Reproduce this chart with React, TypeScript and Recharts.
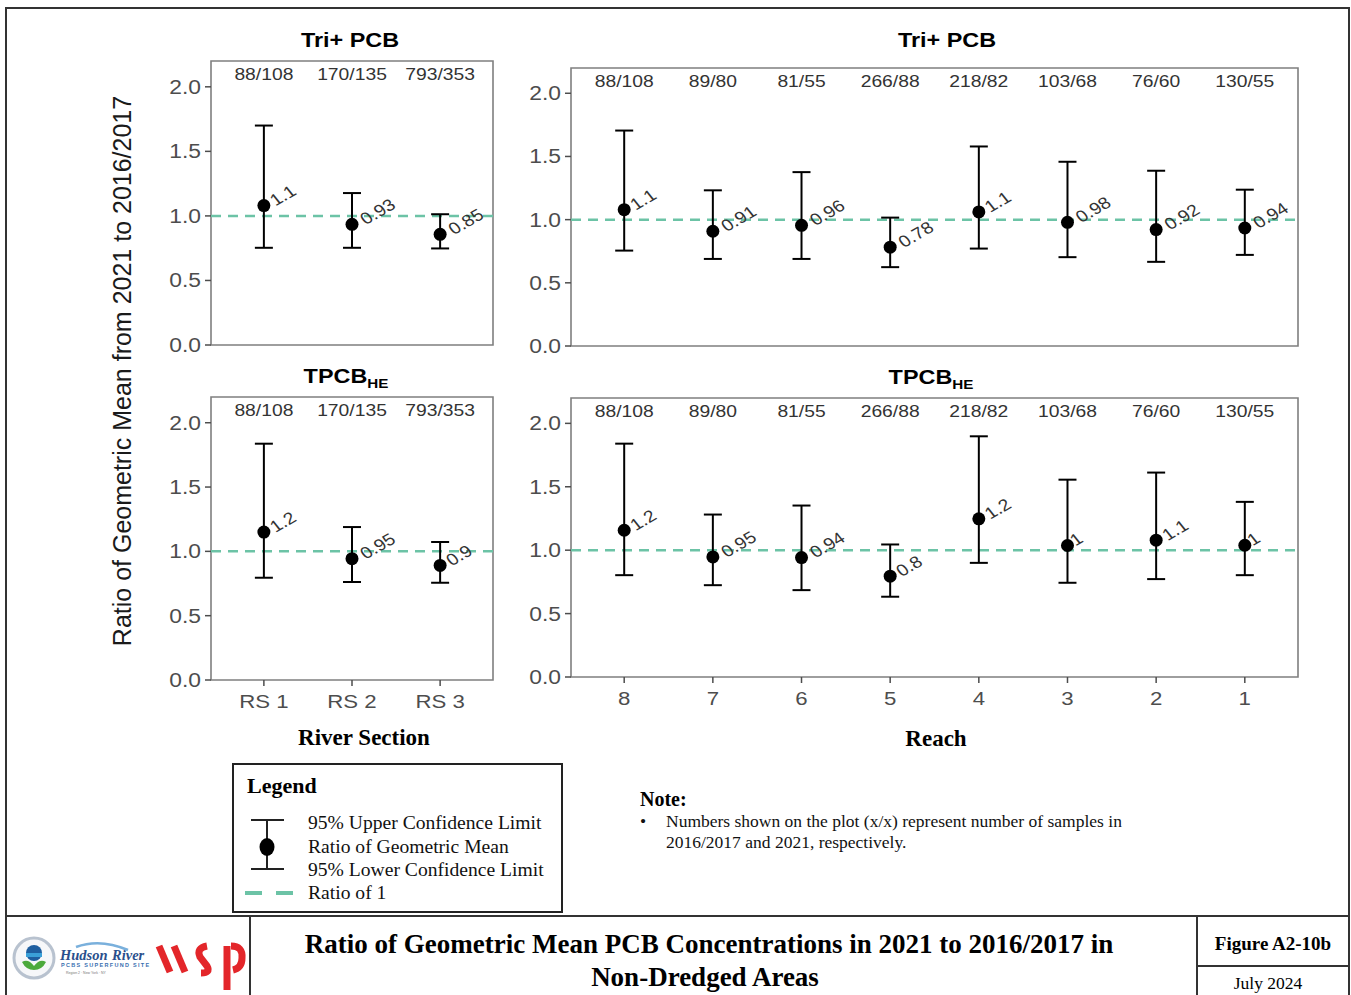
import React from 'react';
import { ScatterChart, Scatter, XAxis, YAxis, ErrorBar, ReferenceLine, ReferenceArea } from 'recharts';

const SANS = '"Liberation Sans", Arial, Helvetica, sans-serif';
const SERIF = '"Liberation Serif", "Times New Roman", Times, serif';
const SX = 1.17;

// ---------- data ----------
const riverSections = ['RS 1', 'RS 2', 'RS 3'];
const riverSectionCounts = ['88/108', '170/135', '793/353'];
const reaches = ['8', '7', '6', '5', '4', '3', '2', '1'];
const reachCounts = ['88/108', '89/80', '81/55', '266/88', '218/82', '103/68', '76/60', '130/55'];

const yTicks = [0, 0.5, 1.0, 1.5, 2.0];
const Y_MAX = 2.2;
const COUNT_Y = 2.1;
const RATIO_ONE = 1;

// Tri+ PCB, river sections
const triRsMean = [1.08, 0.935, 0.857];
const triRsLower = [0.753, 0.753, 0.748];
const triRsUpper = [1.70, 1.177, 1.013];
const triRsLabels = ['1.1', '0.93', '0.85'];

// Tri+ PCB, reaches
const triReachMean = [1.079, 0.908, 0.955, 0.782, 1.061, 0.979, 0.921, 0.934];
const triReachLower = [0.755, 0.689, 0.689, 0.624, 0.771, 0.703, 0.666, 0.721];
const triReachUpper = [1.705, 1.232, 1.376, 1.016, 1.579, 1.458, 1.387, 1.237];
const triReachLabels = ['1.1', '0.91', '0.96', '0.78', '1.1', '0.98', '0.92', '0.94'];

// TPCB HE, river sections
const heRsMean = [1.15, 0.943, 0.891];
const heRsLower = [0.795, 0.762, 0.756];
const heRsUpper = [1.837, 1.189, 1.073];
const heRsLabels = ['1.2', '0.95', '0.9'];

// TPCB HE, reaches
const heReachMean = [1.157, 0.947, 0.942, 0.795, 1.247, 1.037, 1.079, 1.039];
const heReachLower = [0.803, 0.724, 0.685, 0.633, 0.900, 0.743, 0.772, 0.803];
const heReachUpper = [1.84, 1.281, 1.352, 1.045, 1.898, 1.556, 1.612, 1.381];
const heReachLabels = ['1.2', '0.95', '0.94', '0.8', '1.2', '1', '1.1', '1'];

function buildRows(mean: number[], lower: number[], upper: number[], labels: string[]) {
  return mean.map((m, i) => ({ x: i + 1, y: m, err: [m - lower[i], upper[i] - m], label: labels[i] }));
}
function buildCountRows(counts: string[]) {
  return counts.map((c, i) => ({ x: i + 1, y: COUNT_Y, count: c }));
}

// approximate text width (Arial metrics) for hjust-like offset
function approxWidth(s: string, size: number) {
  let w = 0;
  for (const ch of s) w += ch === '.' ? 0.278 : 0.556;
  return w * size;
}

// ---------- shapes ----------
const LABEL_SIZE = 16.5;
const MeanShape = (props: any) => {
  const { cx, cy, payload } = props;
  if (cx == null || cy == null) return null;
  const dx = 5.6 + 0.22 * approxWidth(payload.label, LABEL_SIZE) * SX;
  return (
    <g>
      <circle cx={cx} cy={cy} r={6.5} fill="#000" />
      <text
        transform={`translate(${cx + dx},${cy + 1}) scale(${SX},1) rotate(-34)`}
        fontSize={LABEL_SIZE}
        fill="#333"
        fontFamily={SANS}
      >
        {payload.label}
      </text>
    </g>
  );
};

const CountShape = (props: any) => {
  const { cx, cy, payload } = props;
  if (cx == null || cy == null) return null;
  return (
    <text
      transform={`translate(${cx},${cy + 6.5}) scale(${SX},1)`}
      textAnchor="middle"
      fontSize={16.5}
      fill="#333"
      fontFamily={SANS}
    >
      {payload.count}
    </text>
  );
};

const YTick = (props: any) => {
  const { x, y, payload } = props;
  return (
    <text
      transform={`translate(${x},${y + 7}) scale(${SX},1)`}
      textAnchor="end"
      fontSize={19.5}
      fill="#4d4d4d"
      fontFamily={SANS}
    >
      {Number(payload.value).toFixed(1)}
    </text>
  );
};

const makeXTick = (labels: string[]) => (props: any) => {
  const { x, y, payload } = props;
  return (
    <text
      transform={`translate(${x},${y + 12.5}) scale(${SX},1)`}
      textAnchor="middle"
      fontSize={19}
      fill="#4d4d4d"
      fontFamily={SANS}
    >
      {labels[payload.value - 1]}
    </text>
  );
};

// ---------- panel ----------
type PanelProps = {
  left: number; top: number; right: number; bottom: number;
  rows: any[]; countRows: any[]; xLabels: string[]; showX: boolean;
};

function Panel({ left, top, right, bottom, rows, countRows, xLabels, showX }: PanelProps) {
  const YW = 60, M = 10, XH = 40;
  const n = xLabels.length;
  const width = right - left + YW + M;
  const height = bottom - top + M + (showX ? XH : 0) + M;
  const xTicks = xLabels.map((_, i) => i + 1);
  return (
    <div style={{ position: 'absolute', left: left - YW, top: top - M }}>
      <ScatterChart width={width} height={height} margin={{ top: M, right: M, bottom: M, left: 0 }}>
        <XAxis
          type="number"
          dataKey="x"
          domain={[0.4, n + 0.6]}
          ticks={xTicks}
          interval={0}
          hide={!showX}
          height={XH}
          tickSize={6}
          tickMargin={9}
          axisLine={false}
          tickLine={{ stroke: '#4d4d4d', strokeWidth: 1.5 }}
          tick={makeXTick(xLabels)}
          allowDataOverflow
        />
        <YAxis
          type="number"
          dataKey="y"
          domain={[0, Y_MAX]}
          ticks={yTicks}
          interval={0}
          width={YW}
          tickSize={6}
          tickMargin={4}
          axisLine={false}
          tickLine={{ stroke: '#4d4d4d', strokeWidth: 1.5 }}
          tick={YTick}
          allowDataOverflow
        />
        <ReferenceArea x1={0.4} x2={n + 0.6} y1={0} y2={Y_MAX} fill="none" fillOpacity={0} stroke="#7f7f7f" strokeWidth={1.6} />
        <ReferenceLine y={RATIO_ONE} stroke="#6cc3a6" strokeWidth={2.5} strokeDasharray="10 7" />
        <Scatter data={rows} shape={MeanShape} isAnimationActive={false}>
          <ErrorBar dataKey="err" direction="y" width={9} strokeWidth={2} stroke="#000" isAnimationActive={false} />
        </Scatter>
        <Scatter data={countRows} shape={CountShape} isAnimationActive={false} />
      </ScatterChart>
    </div>
  );
}

// ---------- app ----------
export default function App() {
  const triRs = buildRows(triRsMean, triRsLower, triRsUpper, triRsLabels);
  const triReach = buildRows(triReachMean, triReachLower, triReachUpper, triReachLabels);
  const heRs = buildRows(heRsMean, heRsLower, heRsUpper, heRsLabels);
  const heReach = buildRows(heReachMean, heReachLower, heReachUpper, heReachLabels);
  const rsCounts = buildCountRows(riverSectionCounts);
  const reachCountRows = buildCountRows(reachCounts);

  const title = (x: number, y: number, main: string, sub?: string) => (
    <text transform={`translate(${x},${y}) scale(${SX},1)`} textAnchor="middle" fontFamily={SANS} fontWeight="bold" fontSize={20} fill="#000">
      {main}
      {sub ? <tspan fontSize={13} dy={5}>{sub}</tspan> : null}
    </text>
  );

  return (
    <div style={{ position: 'absolute', left: 0, top: 0, width: 1351, height: 995, background: '#fff', overflow: 'hidden' }}>
      <svg width={1351} height={995} style={{ position: 'absolute', left: 0, top: 0 }}>
        {/* frame */}
        <rect x={6} y={8} width={1343} height={1000} fill="none" stroke="#333" strokeWidth={2} />
        <line x1={6} y1={916} x2={1349} y2={916} stroke="#333" strokeWidth={2} />
        <line x1={250} y1={916} x2={250} y2={995} stroke="#333" strokeWidth={2} />
        <line x1={1197} y1={916} x2={1197} y2={995} stroke="#333" strokeWidth={2} />
        <line x1={1197} y1={966} x2={1349} y2={966} stroke="#333" strokeWidth={2} />

        {/* panel titles */}
        {title(350, 47, 'Tri+ PCB')}
        {title(947, 47, 'Tri+ PCB')}
        {title(346, 383, 'TPCB', 'HE')}
        {title(931, 384, 'TPCB', 'HE')}

        {/* y axis title */}
        <text transform="translate(131,371) rotate(-90)" textAnchor="middle" fontFamily={SANS} fontSize={25} fill="#1a1a1a">
          Ratio of Geometric Mean from 2021 to 2016/2017
        </text>

        {/* x axis titles */}
        <text x={364} y={745} textAnchor="middle" fontFamily={SERIF} fontWeight="bold" fontSize={23} fill="#000">River Section</text>
        <text x={936} y={746} textAnchor="middle" fontFamily={SERIF} fontWeight="bold" fontSize={23} fill="#000">Reach</text>

        {/* legend */}
        <rect x={233} y={764} width={329} height={148} fill="none" stroke="#222" strokeWidth={2} />
        <text x={247} y={793} fontFamily={SERIF} fontWeight="bold" fontSize={22} fill="#000">Legend</text>
        <line x1={251} y1={820} x2={284} y2={820} stroke="#222" strokeWidth={2} />
        <line x1={267} y1={820} x2={267} y2={869} stroke="#222" strokeWidth={2} />
        <line x1={251} y1={869} x2={284} y2={869} stroke="#222" strokeWidth={2} />
        <ellipse cx={267} cy={847} rx={7.5} ry={9} fill="#000" />
        <line x1={245} y1={893} x2={262} y2={893} stroke="#6cc3a6" strokeWidth={4} />
        <line x1={276} y1={893} x2={293} y2={893} stroke="#6cc3a6" strokeWidth={4} />
        <text x={308} y={829} fontFamily={SERIF} fontSize={19.6} fill="#111">95% Upper Confidence Limit</text>
        <text x={308} y={853} fontFamily={SERIF} fontSize={19.6} fill="#111">Ratio of Geometric Mean</text>
        <text x={308} y={876} fontFamily={SERIF} fontSize={19.6} fill="#111">95% Lower Confidence Limit</text>
        <text x={308} y={899} fontFamily={SERIF} fontSize={19.6} fill="#111">Ratio of 1</text>

        {/* note */}
        <text x={640} y={806} fontFamily={SERIF} fontWeight="bold" fontSize={20} fill="#000">Note:</text>
        <text x={640} y={827} fontFamily={SERIF} fontSize={17.5} fill="#111">•</text>
        <text x={666} y={827} fontFamily={SERIF} fontSize={17.5} fill="#111">Numbers shown on the plot (x/x) represent number of samples in</text>
        <text x={666} y={848} fontFamily={SERIF} fontSize={17.5} fill="#111">2016/2017 and 2021, respectively.</text>

        {/* footer title */}
        <text x={709} y={953} textAnchor="middle" fontFamily={SERIF} fontWeight="bold" fontSize={27} fill="#000">
          Ratio of Geometric Mean PCB Concentrations in 2021 to 2016/2017 in
        </text>
        <text x={705} y={986} textAnchor="middle" fontFamily={SERIF} fontWeight="bold" fontSize={27} fill="#000">Non-Dredged Areas</text>
        <text x={1273} y={950} textAnchor="middle" fontFamily={SERIF} fontWeight="bold" fontSize={19} fill="#000">Figure A2-10b</text>
        <text x={1268} y={989} textAnchor="middle" fontFamily={SERIF} fontSize={17.5} fill="#000">July 2024</text>

        {/* logos (approximation) */}
        <circle cx={34} cy={958} r={20} fill="#f6f7f9" stroke="#b8c2cf" strokeWidth={3} />
        <circle cx={34} cy={953} r={8} fill="#1f5fa0" />
        <rect x={26} y={953} width={16} height={4} fill="#3aa0d8" />
        <path d="M22 962 Q28 958 34 966 Q40 958 46 962 Q42 970 34 970 Q26 970 22 962 Z" fill="#4caa3c" />
        <text x={60} y={960} fontFamily={SERIF} fontStyle="italic" fontWeight="bold" fontSize={14.5} fill="#2a4f8c">Hudson</text>
        <text x={112} y={960} fontFamily={SERIF} fontStyle="italic" fontWeight="bold" fontSize={14.5} fill="#2a4f8c">River</text>
        <path d="M76 947 Q100 938 128 950" fill="none" stroke="#7ab0dc" strokeWidth={2.5} />
        <text x={61} y={967} fontFamily={SANS} fontSize={5.5} fontWeight="bold" fill="#3a6fb0" letterSpacing={1.3}>PCBS SUPERFUND SITE</text>
        <text x={66} y={974} fontFamily={SANS} fontSize={3.5} fill="#777">Region 2 · New York · NY</text>
        <g stroke="#e3262a" strokeWidth={7} fill="none" strokeLinecap="butt">
          <line x1={159} y1={946} x2={170} y2={972} />
          <line x1={174} y1={946} x2={185} y2={972} />
          <path d="M207 946 Q196 948 200 957 L207 966 Q211 973 201 973" />
          <line x1={227} y1={946} x2={227} y2={990} />
          <path d="M231 946 Q243 946 242 958 Q242 968 233 970" />
        </g>
      </svg>

      <Panel left={211} top={61} right={493} bottom={345} rows={triRs} countRows={rsCounts} xLabels={riverSections} showX={false} />
      <Panel left={571} top={68} right={1298} bottom={346} rows={triReach} countRows={reachCountRows} xLabels={reaches} showX={false} />
      <Panel left={211} top={397} right={493} bottom={680} rows={heRs} countRows={rsCounts} xLabels={riverSections} showX={true} />
      <Panel left={571} top={398} right={1298} bottom={677} rows={heReach} countRows={reachCountRows} xLabels={reaches} showX={true} />
    </div>
  );
}
